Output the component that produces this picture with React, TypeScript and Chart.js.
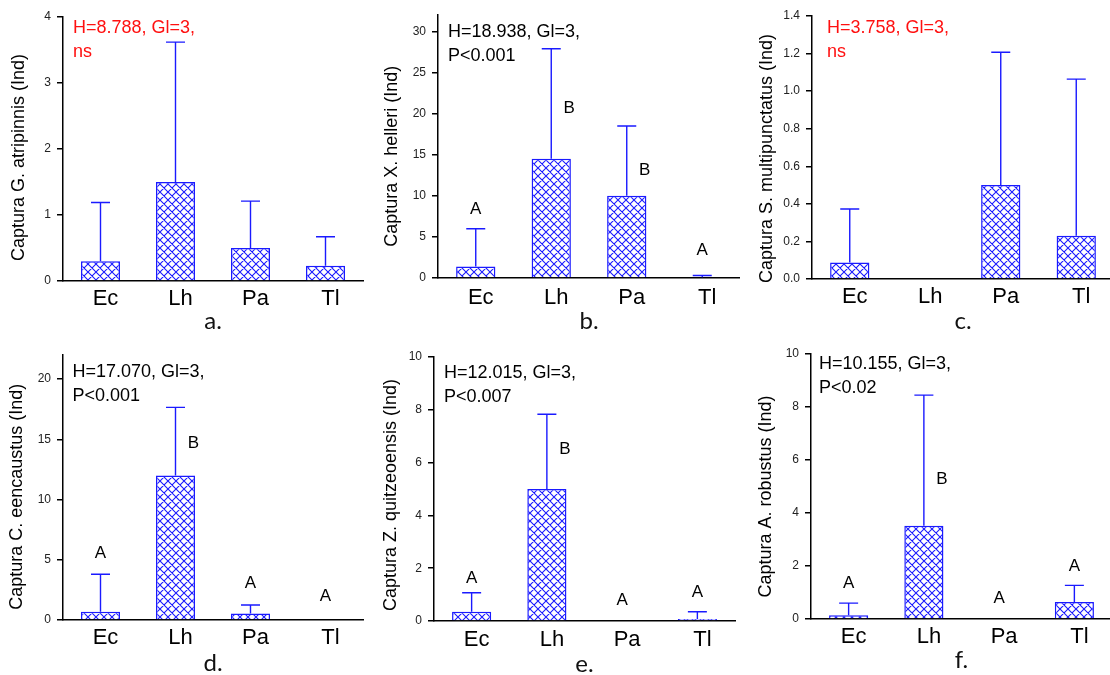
import React, { useEffect, useRef } from "react";
import { Chart, registerables } from "chart.js";

Chart.register(...registerables);

// ---------------- DATA ----------------
const categories = ["Ec", "Lh", "Pa", "Tl"];

const meansA = [0.3, 1.5, 0.5, 0.23];
const upperA = [1.19, 3.62, 1.21, 0.67];

const meansB = [1.4, 14.5, 10.0, 0.1];
const upperB = [6.0, 27.9, 18.5, 0.3];
const lettersB = ["A", "B", "B", "A"];
const letterAtB = [8.3, 20.6, 13.1, 3.4];

const meansC = [0.088, 0, 0.5, 0.23];
const upperC = [0.373, null, 1.207, 1.064];

const meansD = [0.69, 12.0, 0.55, 0];
const upperD = [3.8, 17.65, 1.25, null];
const lettersD = ["A", "B", "A", "A"];
const letterAtD = [5.5, 14.7, 3.05, 2.0];

const meansE = [0.35, 5.0, 0, 0.08];
const upperE = [1.07, 7.83, null, 0.35];
const lettersE = ["A", "B", "A", "A"];
const letterAtE = [1.62, 6.5, 0.79, 1.1];

const meansF = [0.14, 3.52, 0, 0.64];
const upperF = [0.6, 8.45, null, 1.27];
const lettersF = ["A", "B", "A", "A"];
const letterAtF = [1.34, 5.27, 0.77, 1.97];

const yTitles = [
  "Captura G. atripinnis (Ind)",
  "Captura X. helleri (Ind)",
  "Captura S. multipunctatus (Ind)",
  "Captura C. eencaustus (Ind)",
  "Captura Z. quitzeoensis (Ind)",
  "Captura A. robustus (Ind)",
];
const statTexts = [
  ["H=8.788, Gl=3,", "ns"],
  ["H=18.938, Gl=3,", "P<0.001"],
  ["H=3.758, Gl=3,", "ns"],
  ["H=17.070, Gl=3,", "P<0.001"],
  ["H=12.015, Gl=3,", "P<0.007"],
  ["H=10.155, Gl=3,", "P<0.02"],
];
const statSignificant = [false, true, false, true, true, true];
const panelTags = ["a.", "b.", "c.", "d.", "e.", "f."];
const yMaxes = [4, 32, 1.4, 22, 10, 10];
const ySteps = [1, 5, 0.2, 5, 2, 2];
const yDecimals = [0, 0, 1, 0, 0, 0];

const PANEL_DATA = [
  { means: meansA, upper: upperA, letters: null as string[] | null, letterAt: null as number[] | null },
  { means: meansB, upper: upperB, letters: lettersB, letterAt: letterAtB },
  { means: meansC, upper: upperC, letters: null, letterAt: null },
  { means: meansD, upper: upperD, letters: lettersD, letterAt: letterAtD },
  { means: meansE, upper: upperE, letters: lettersE, letterAt: letterAtE },
  { means: meansF, upper: upperF, letters: lettersF, letterAt: letterAtF },
];

// ---------------- LAYOUT / STYLE ----------------
const FONT = "'Liberation Sans', Arial, sans-serif";
const TAG_FONT = "Lato, 'Open Sans', sans-serif";
const BLUE = "#1a1aff";

const LAYOUT = [
  { left: 0, top: 0, w: 370, h: 337, cl: 63, cr: 363, ct: 17, titleX: 19.5, titleDy: 8.5, statDx: 10, statDy: 10.8, tickPad: 4.5, tagPad: 4 },
  { left: 370, top: 0, w: 370, h: 337, cl: 68, cr: 370, ct: 15, titleX: 22, titleDy: 9.8, statDx: 10, statDy: 16.7, tickPad: 6.5, tagPad: 4 },
  { left: 740, top: 0, w: 374, h: 337, cl: 72, cr: 374, ct: 16, titleX: 27, titleDy: 11, statDx: 15, statDy: 12.5, tickPad: 5, tagPad: 4 },
  { left: 0, top: 337, w: 370, h: 338, cl: 63, cr: 363, ct: 18, titleX: 17.3, titleDy: 9.2, statDx: 9.5, statDy: 16.7, tickPad: 5, tagPad: 0 },
  { left: 370, top: 337, w: 370, h: 338, cl: 64, cr: 365, ct: 20, titleX: 20.7, titleDy: 6, statDx: 10, statDy: 16, tickPad: 6, tagPad: -1 },
  { left: 740, top: 337, w: 372, h: 338, cl: 71, cr: 372, ct: 17, titleX: 25.7, titleDy: 10, statDx: 8, statDy: 9.7, tickPad: 5, tagPad: 3 },
];
const CHART_BOTTOM = [281, 278, 279, 283, 284, 282];

function makePattern(ctx: CanvasRenderingContext2D): CanvasPattern | string {
  const c = document.createElement("canvas");
  c.width = 8;
  c.height = 8;
  const g = c.getContext("2d");
  if (!g) return "#fff";
  g.fillStyle = "#ffffff";
  g.fillRect(0, 0, 8, 8);
  g.strokeStyle = BLUE;
  g.lineWidth = 1.1;
  g.beginPath();
  for (const k of [-8, 0, 8]) {
    g.moveTo(k, 0);
    g.lineTo(k + 8, 8);
    g.moveTo(k + 8, 0);
    g.lineTo(k, 8);
  }
  g.stroke();
  return ctx.createPattern(c, "repeat") || "#fff";
}

const errorBarPlugin = {
  id: "errbars",
  afterDatasetsDraw(chart: any, _args: any, opts: any) {
    const upper: (number | null)[] = opts.upper || [];
    const means: number[] = opts.means || [];
    const meta = chart.getDatasetMeta(0);
    const ys = chart.scales.y;
    const ctx = chart.ctx;
    ctx.save();
    ctx.strokeStyle = BLUE;
    ctx.lineWidth = 1.4;
    upper.forEach((u, i) => {
      if (u === null || u === undefined) return;
      const bar = meta.data[i];
      if (!bar) return;
      const x = bar.x;
      const y0 = ys.getPixelForValue(means[i]);
      const y1 = ys.getPixelForValue(u);
      ctx.beginPath();
      ctx.moveTo(x, y0);
      ctx.lineTo(x, y1);
      ctx.moveTo(x - 9.5, y1);
      ctx.lineTo(x + 9.5, y1);
      ctx.stroke();
    });
    ctx.restore();
  },
};

const annotPlugin = {
  id: "annot",
  afterDraw(chart: any, _args: any, opts: any) {
    const ctx = chart.ctx;
    const area = chart.chartArea;
    const ys = chart.scales.y;
    ctx.save();
    // y-axis title
    ctx.save();
    ctx.translate(opts.titleX, (area.top + area.bottom) / 2 + opts.titleDy);
    ctx.rotate(-Math.PI / 2);
    ctx.font = `18px ${FONT}`;
    ctx.fillStyle = "#000";
    ctx.textAlign = "center";
    ctx.textBaseline = "middle";
    ctx.fillText(opts.yTitle, 0, 0);
    ctx.restore();
    // statistics text
    ctx.font = `18px ${FONT}`;
    ctx.textAlign = "left";
    ctx.textBaseline = "middle";
    ctx.fillStyle = opts.significant ? "#000" : "#ff1010";
    (opts.stats || []).forEach((line: string, i: number) => {
      ctx.fillText(line, area.left + opts.statDx, area.top + opts.statDy + i * 24);
    });
    // group letters
    if (opts.letters && opts.letterAt) {
      const meta = chart.getDatasetMeta(0);
      ctx.font = `17px ${FONT}`;
      ctx.textAlign = "center";
      ctx.fillStyle = "#000";
      opts.letters.forEach((L: string, i: number) => {
        const bar = meta.data[i];
        const v = opts.letterAt[i];
        const u = opts.upper[i];
        const dx = u !== null && u !== undefined && v < u ? 18 : 0;
        ctx.fillText(L, bar.x + dx, ys.getPixelForValue(v));
      });
    }
    ctx.restore();
  },
};

function Panel({ idx }: { idx: number }) {
  const ref = useRef<HTMLCanvasElement>(null);
  const L = LAYOUT[idx];
  useEffect(() => {
    const canvas = ref.current;
    if (!canvas) return;
    const ctx = canvas.getContext("2d");
    if (!ctx) return;
    const pattern = makePattern(ctx);
    const d = PANEL_DATA[idx];
    const cb = CHART_BOTTOM[idx];
    const step = ySteps[idx];
    const chart = new Chart(canvas, {
      type: "bar",
      data: {
        labels: categories,
        datasets: [
          {
            data: d.means,
            backgroundColor: pattern as any,
            borderColor: BLUE,
            borderWidth: 1.5,
            barPercentage: 0.52,
            categoryPercentage: 1,
          },
        ],
      },
      plugins: [errorBarPlugin, annotPlugin],
      options: {
        animation: false,
        responsive: false,
        maintainAspectRatio: false,
        events: [],
        layout: { padding: { left: 0, top: L.ct, right: L.w - L.cr, bottom: 0 } },
        plugins: {
          legend: { display: false },
          tooltip: { enabled: false },
          errbars: { means: d.means, upper: d.upper },
          annot: {
            titleX: L.titleX,
            titleDy: L.titleDy,
            yTitle: yTitles[idx],
            stats: statTexts[idx],
            significant: statSignificant[idx],
            statDx: L.statDx,
            statDy: L.statDy,
            letters: d.letters,
            letterAt: d.letterAt,
            upper: d.upper,
          },
        } as any,
        scales: {
          x: {
            type: "category",
            offset: true,
            grid: { display: false, drawTicks: false },
            border: { display: true, color: "#000", width: 1.5 },
            ticks: {
              color: "#000",
              font: { size: 22, family: FONT },
              padding: L.tickPad,
              labelOffset: 5,
              maxRotation: 0,
              autoSkip: false,
            },
            title: {
              display: true,
              text: panelTags[idx],
              color: "#111",
              font: { size: 24, family: TAG_FONT, lineHeight: 1 },
              padding: { top: 0, bottom: L.tagPad },
            },
            afterFit: (s: any) => {
              s.height = L.h - cb;
            },
          },
          y: {
            type: "linear",
            min: 0,
            max: yMaxes[idx],
            bounds: "data",
            grid: {
              display: true,
              drawOnChartArea: false,
              drawTicks: true,
              tickLength: 6,
              color: "#000",
              lineWidth: 1.5,
            },
            border: { display: true, color: "#000", width: 1.5 },
            ticks: {
              stepSize: step,
              includeBounds: false,
              color: "#222",
              font: { size: 12, family: FONT },
              padding: 6,
              callback: (v: any) => Number(v).toFixed(yDecimals[idx]),
            },
            afterBuildTicks: (s: any) => {
              s.ticks = s.ticks.filter((t: any) => {
                const r = t.value / step;
                return Math.abs(r - Math.round(r)) < 1e-6;
              });
            },
            title: { display: false },
            afterFit: (s: any) => {
              s.width = L.cl;
            },
          },
        } as any,
      },
    });
    return () => chart.destroy();
  }, [idx]);
  return (
    <canvas
      ref={ref}
      width={L.w}
      height={L.h}
      style={{ position: "absolute", left: L.left, top: L.top, width: L.w, height: L.h }}
    />
  );
}

export default function App() {
  return (
    <div
      style={{
        position: "absolute",
        left: 0,
        top: 0,
        width: 1110,
        height: 675,
        overflow: "hidden",
        background: "#fff",
      }}
    >
      {[0, 1, 2, 3, 4, 5].map((i) => (
        <Panel key={i} idx={i} />
      ))}
    </div>
  );
}
